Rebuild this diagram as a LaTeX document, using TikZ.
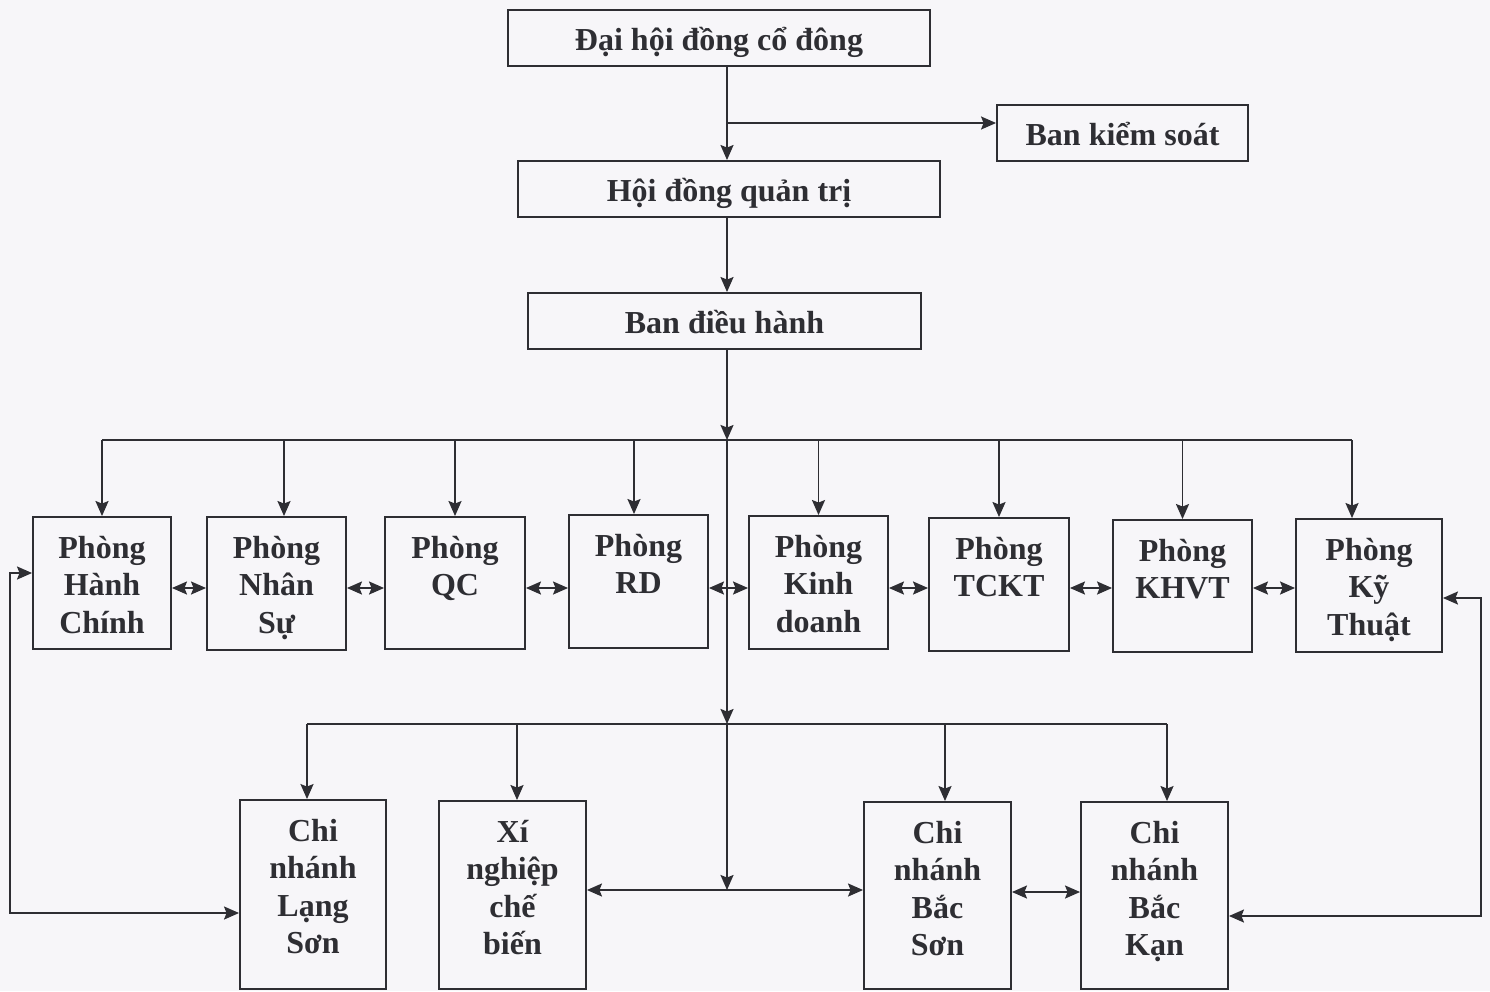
\documentclass[tikz,border=0pt]{standalone}
\usepackage{fontspec}
\setmainfont{Liberation Serif}
\usetikzlibrary{arrows.meta,calc}
\definecolor{ink}{HTML}{2E2E33}
\definecolor{paper}{HTML}{F7F6F9}
\newcommand{\tb}[3]{\parbox[t][#2][t]{#1}{\centering\rule{0pt}{41pt}#3}}
\tikzset{
  box/.style={draw=ink, fill=paper, inner sep=0pt, text=ink},
  topbox/.style={box, minimum height=56pt, text height=31pt, text depth=6pt},
  tip/.tip={Stealth[length=15pt,width=13pt,inset=2.5pt]},
  arr/.style={draw=ink, -tip},
  dbl/.style={draw=ink, tip-tip},
  ln/.style={draw=ink}
}
\begin{document}
\begin{tikzpicture}[x=1pt,y=-1pt,line width=1.9pt,font=\bfseries\fontsize{32}{37.5}\selectfont]
\useasboundingbox[fill=paper] (0,0) rectangle (1490,991);

% top levels
\node[topbox, minimum width=422pt] (dh) at (719,38) {Đại hội đồng cổ đông};
\node[topbox, minimum width=251pt] (bks) at (1122.5,133) {Ban kiểm soát};
\node[topbox, minimum width=422pt] (hdqt) at (729,189) {Hội đồng quản trị};
\node[topbox, minimum width=393pt] (bdh) at (724.5,321) {Ban điều hành};

% row 1
\node[box] (hc) at (102,583)   {\tb{138pt}{132pt}{Phòng\\Hành\\Chính}};
\node[box] (ns) at (276.5,583.5) {\tb{139pt}{133pt}{Phòng\\Nhân\\Sự}};
\node[box] (qc) at (455,583)   {\tb{140pt}{132pt}{Phòng\\QC}};
\node[box] (rd) at (638.5,581.5) {\tb{139pt}{133pt}{Phòng\\RD}};
\node[box] (kd) at (818.5,582.5) {\tb{139pt}{133pt}{Phòng\\Kinh\\doanh}};
\node[box] (tc) at (999,584.5) {\tb{140pt}{133pt}{Phòng\\TCKT}};
\node[box] (kh) at (1182.5,586) {\tb{139pt}{132pt}{Phòng\\KHVT}};
\node[box] (kt) at (1369,585.5) {\tb{146pt}{133pt}{Phòng\\Kỹ\\Thuật}};

% row 2
\node[box] (ls) at (313,894.5)  {\tb{146pt}{189pt}{Chi\\nhánh\\Lạng\\Sơn}};
\node[box] (xn) at (512.5,895)  {\tb{147pt}{188pt}{Xí\\nghiệp\\chế\\biến}};
\node[box] (bs) at (937.5,895.5){\tb{147pt}{187pt}{Chi\\nhánh\\Bắc\\Sơn}};
\node[box] (bk) at (1154.5,895.5){\tb{147pt}{187pt}{Chi\\nhánh\\Bắc\\Kạn}};

% helper coordinates
\coordinate (sp) at (727,0);
\coordinate (kk) at (727,123);
\coordinate (b1) at (727,440);
\coordinate (b2) at (727,724);
\coordinate (r1) at (0,588);
\coordinate (r2) at (0,890);
\coordinate (r3) at (0,892);
\coordinate (lt) at (10,573);
\coordinate (lb) at (10,913);
\coordinate (rt) at (1481,598);
\coordinate (rb) at (1481,916);

% spine
\draw[arr] (dh.south -| sp) -- (hdqt.north -| sp);
\draw[arr] (kk) -- (kk -| bks.west);
\draw[arr] (hdqt.south -| sp) -- (bdh.north -| sp);
\draw[arr] (bdh.south -| sp) -- (b1);
\draw[arr] (b1) -- (b2);
\draw[arr] (b2) -- (sp |- r2);

% bus 1
\draw[ln] (hc.north |- b1) -- ([xshift=-17pt]kt.north |- b1);
\draw[arr] (hc.north |- b1) -- (hc.north);
\draw[arr] ([xshift=7.5pt]ns.north |- b1) -- ([xshift=7.5pt]ns.north);
\draw[arr] (qc.north |- b1) -- (qc.north);
\draw[arr] ([xshift=-4.5pt]rd.north |- b1) -- ([xshift=-4.5pt]rd.north);
\draw[arr] (kd.north |- b1) -- (kd.north);
\draw[arr] (tc.north |- b1) -- (tc.north);
\draw[arr] (kh.north |- b1) -- (kh.north);
\draw[arr] ([xshift=-17pt]kt.north |- b1) -- ([xshift=-17pt]kt.north);

% row 1 links
\draw[dbl] (hc.east |- r1) -- (ns.west |- r1);
\draw[dbl] (ns.east |- r1) -- (qc.west |- r1);
\draw[dbl] (qc.east |- r1) -- (rd.west |- r1);
\draw[dbl] (rd.east |- r1) -- (kd.west |- r1);
\draw[dbl] (kd.east |- r1) -- (tc.west |- r1);
\draw[dbl] (tc.east |- r1) -- (kh.west |- r1);
\draw[dbl] (kh.east |- r1) -- (kt.west |- r1);

% bus 2
\draw[ln] ([xshift=-6pt]ls.north |- b2) -- ([xshift=12.5pt]bk.north |- b2);
\draw[arr] ([xshift=-6pt]ls.north |- b2) -- ([xshift=-6pt]ls.north);
\draw[arr] ([xshift=4.5pt]xn.north |- b2) -- ([xshift=4.5pt]xn.north);
\draw[arr] ([xshift=7.5pt]bs.north |- b2) -- ([xshift=7.5pt]bs.north);
\draw[arr] ([xshift=12.5pt]bk.north |- b2) -- ([xshift=12.5pt]bk.north);

% row 2 links
\draw[dbl] (xn.east |- r2) -- (bs.west |- r2);
\draw[dbl] (bs.east |- r3) -- (bk.west |- r3);

% side loops
\draw[dbl] (lt -| hc.west) -- (lt) -- (lb) -- (lb -| ls.west);
\draw[dbl] (rt -| kt.east) -- (rt) -- (rb) -- (rb -| bk.east);
\end{tikzpicture}
\end{document}
